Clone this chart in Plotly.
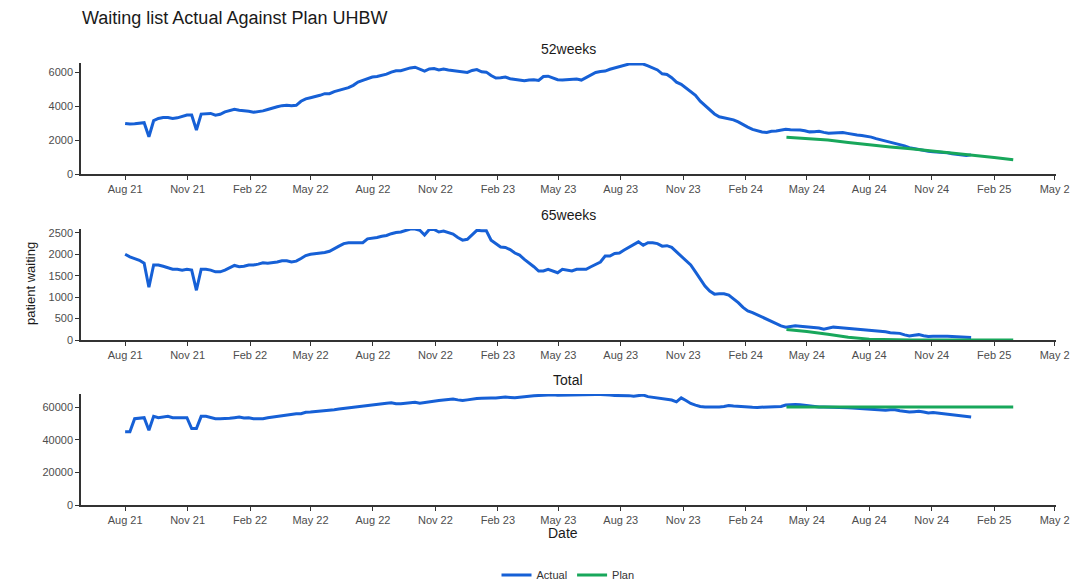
import pandas as pd
import plotly.graph_objects as go

# ---------------- data ----------------
week_start = "2021-08-01"
n_weeks = 179
actual_dates = pd.date_range(week_start, periods=n_weeks, freq="7D")
plan_dates = pd.date_range("2024-04-01", periods=12, freq="MS")

actual_52 = [
    2990, 2950, 2970, 2990, 3030, 2200, 3150, 3280, 3340, 3340,
    3280, 3320, 3420, 3480, 3480, 2600, 3540, 3580, 3580, 3480,
    3530, 3670, 3770, 3830, 3770, 3750, 3710, 3650, 3670, 3730,
    3810, 3870, 3970, 4040, 4060, 4030, 4060, 4300, 4440, 4510,
    4570, 4650, 4750, 4750, 4870, 4940, 5020, 5100, 5240, 5430,
    5530, 5630, 5730, 5760, 5820, 5900, 6020, 6100, 6100,
    6190, 6270, 6310, 6210, 6080, 6210, 6230, 6150, 6210, 6150,
    6120, 6080, 6040, 6000, 6120, 6170, 6040, 6020, 5820, 5670,
    5690, 5730, 5630, 5590, 5570, 5510, 5550, 5570, 5530, 5760,
    5780, 5690, 5570, 5550, 5570, 5590, 5610, 5550, 5690, 5820,
    6000, 6060, 6080, 6190, 6270, 6350, 6430, 6500, 6500, 6500,
    6500, 6390, 6270, 6150, 5920, 5880, 5690, 5430, 5300, 5100,
    4900, 4650,
    4300, 4050, 3800, 3550, 3380, 3320, 3280, 3200, 3080, 2900,
    2770, 2640, 2560, 2480, 2450, 2530, 2540, 2580, 2640, 2620,
    2620, 2600, 2560, 2490, 2500, 2520, 2460, 2410, 2430, 2460,
    2450, 2400, 2330, 2300, 2280, 2250, 2180, 2090, 2020, 1940,
    1880, 1820, 1740, 1660, 1560, 1500, 1480, 1420, 1340, 1320,
    1310, 1300, 1250, 1200, 1160, 1100, 1090, 1130,
]

actual_65 = [
    2000, 1940, 1900, 1860, 1790, 1230, 1750, 1750, 1720, 1690,
    1650, 1650, 1630, 1650, 1630, 1160, 1650, 1650, 1630, 1590,
    1590, 1630, 1690, 1740, 1710, 1720, 1750, 1750, 1770, 1800,
    1790, 1800, 1820, 1850, 1850, 1820, 1840, 1900, 1970, 2000,
    2010, 2030, 2040, 2070, 2140, 2190, 2250, 2270, 2270, 2270,
    2270, 2360, 2370, 2390, 2420, 2440, 2480, 2510, 2520,
    2560, 2590, 2590, 2560, 2450, 2580, 2580, 2520, 2540, 2510,
    2470, 2390, 2330, 2350, 2450, 2560, 2550, 2550, 2330, 2240,
    2170, 2160, 2110, 2030, 1980, 1880, 1800, 1710, 1610, 1610,
    1650, 1610, 1570, 1650, 1630, 1610, 1650, 1650, 1650, 1710,
    1770, 1820, 1960, 1960, 2020, 2030, 2100, 2170, 2240, 2290,
    2210, 2270, 2270, 2250, 2190, 2200, 2160, 2060, 1960, 1860,
    1750, 1590,
    1420, 1260, 1140, 1070, 1080, 1080, 1050, 970, 870, 760,
    680, 640, 590, 540, 490, 430, 380, 330, 300, 320,
    330, 320, 310, 300, 300, 280, 250, 280, 300, 290,
    280, 270, 265, 260, 250, 235, 220, 215, 210, 190,
    170, 160, 155, 120, 95, 110, 125, 100, 80, 85,
    95, 90, 85, 80, 75, 60, 60, 60,
]

actual_total = [
    44800, 44800, 52900, 53300, 53500, 45800, 54300, 53500, 53900, 54300,
    53500, 53300, 53500, 53500, 46800, 46800, 54300, 54300, 53500, 52900,
    52900, 52900, 53100, 53500, 53900, 53300, 53500, 52900, 52700, 52900,
    53500, 53900, 54300, 54900, 55300, 55500, 55900, 55900, 56800, 57000,
    57200, 57400, 57800, 57800, 58400, 58800, 59200, 59600, 60000, 60400,
    60800, 61200, 61600, 61800, 62000, 62400, 62600, 62000, 62000,
    62400, 62600, 63000, 62400, 62800, 63600, 63800, 64000, 64300, 64600,
    64900, 64400, 64000, 64400, 65000, 65200, 65400, 65700, 65600, 65500,
    65800, 66100, 65900, 65700, 66000, 66400, 66600, 66900, 67100, 67300,
    67600, 67500, 67300, 67400, 67500, 67600, 67700, 67700, 67700, 67700,
    67700, 67700, 67700, 67400, 67100, 67200, 67300, 67000, 66700, 67200,
    67400, 66400, 66000, 65800, 65500, 64900, 64300, 63200, 65600, 64000,
    62200, 61200, 60400, 60100, 60000, 60000, 60000, 60300, 61000, 60700,
    60400, 60100, 60000, 59900, 59800, 59900, 60000, 60000, 60100, 60400,
    61200, 61500, 61600, 61400, 61000, 60500, 60200, 60000, 60000, 60000,
    60000, 59800, 59700, 59600, 59400, 59200, 59100, 59000, 58800, 58400,
    58100, 58000, 58300, 58400, 57800, 57200, 57000, 57200, 57400, 57000,
    56400, 56600, 56300, 55800, 55500, 55300, 55000, 54700, 54300, 53900,
]

plan_52 = [2170, 2090, 2010, 1860, 1720, 1600, 1490, 1370, 1230, 1090, 980, 840]
plan_65 = [245, 200, 135, 65, 20, 5, 0, 0, 0, 0, 0, 0]
plan_total = [60100, 60100, 60100, 60100, 60100, 60100, 60100, 60100, 60100, 60100, 60100, 60100]

panel_titles = ["52weeks", "65weeks", "Total"]
tick_dates = pd.date_range("2021-08-01", "2025-05-01", freq="3MS")
tick_labels = ["Aug 21", "Nov 21", "Feb 22", "May 22", "Aug 22", "Nov 22",
               "Feb 23", "May 23", "Aug 23", "Nov 23", "Feb 24", "May 24",
               "Aug 24", "Nov 24", "Feb 25", "May 2"]
y_ticks = [[0, 2000, 4000, 6000], [0, 500, 1000, 1500, 2000, 2500],
           [0, 20000, 40000, 60000]]
y_tops = [6560, 2590, 68000]

# ---------------- figure ----------------
BLUE = "#1660d6"
GREEN = "#18a75b"
FONT = "Liberation Sans, Arial, sans-serif"
W, H = 1089, 583
ML, MR, MT, MB = 81, 33, 63, 78
plot_h = H - MT - MB

def ydom(top_px, bot_px):
    return [(H - MB - bot_px) / plot_h, (H - MB - top_px) / plot_h]

def py(px):
    return (H - MB - px) / plot_h

def pxx(px):
    return (px - ML) / (W - ML - MR)

domains = [ydom(63, 174), ydom(229, 340), ydom(394, 505)]
title_px = [49, 215, 380]

fig = go.Figure()
series = [(actual_52, plan_52), (actual_65, plan_65), (actual_total, plan_total)]
for k, (act, pln) in enumerate(series):
    suffix = "" if k == 0 else str(k + 1)
    fig.add_trace(go.Scatter(
        x=actual_dates, y=act, mode="lines", name="Actual",
        line=dict(color=BLUE, width=3), legendgroup="Actual",
        showlegend=(k == 0), xaxis="x" + suffix, yaxis="y" + suffix))
    fig.add_trace(go.Scatter(
        x=plan_dates, y=pln, mode="lines", name="Plan",
        line=dict(color=GREEN, width=3), legendgroup="Plan",
        showlegend=(k == 0), xaxis="x" + suffix, yaxis="y" + suffix))

axis_common = dict(
    showline=True, linecolor="#333333", linewidth=1.5,
    ticks="outside", ticklen=4, tickwidth=1.3, tickcolor="#333333",
    showgrid=False, zeroline=False, automargin=False,
    tickfont=dict(family=FONT, size=11, color="#4d4d4d"),
)

layout = dict(
    width=W, height=H,
    margin=dict(l=ML, r=MR, t=MT, b=MB, autoexpand=False),
    paper_bgcolor="white", plot_bgcolor="white",
    font=dict(family=FONT, color="#1a1a1a"),
    title=dict(text="Waiting list Actual Against Plan UHBW",
               x=82 / W, xref="container", xanchor="left",
               y=1 - 18 / H, yref="container", yanchor="middle",
               font=dict(family=FONT, size=18, color="#1a1a1a")),
    legend=dict(orientation="h", x=pxx(568), xanchor="center",
                y=py(575), yanchor="middle",
                font=dict(family=FONT, size=11, color="#333333"),
                itemwidth=30, bgcolor="rgba(0,0,0,0)"),
    showlegend=True,
)

for k in range(3):
    suffix = "" if k == 0 else str(k + 1)
    layout["xaxis" + suffix] = dict(
        axis_common, domain=[0, 1], anchor="y" + suffix,
        range=["2021-05-28", "2025-05-03"], type="date",
        tickvals=list(tick_dates), ticktext=tick_labels)
    layout["yaxis" + suffix] = dict(
        axis_common, domain=domains[k], anchor="x" + suffix,
        range=[0, y_tops[k]], tickvals=y_ticks[k],
        ticktext=[str(v) for v in y_ticks[k]])

annotations = []
for k in range(3):
    annotations.append(dict(
        text=panel_titles[k], xref="paper", yref="paper",
        x=pxx(568), y=py(title_px[k]), xanchor="center", yanchor="middle",
        showarrow=False, font=dict(family=FONT, size=14, color="#1a1a1a")))
annotations.append(dict(
    text="patient waiting", xref="paper", yref="paper",
    x=pxx(30), y=py(284), xanchor="center", yanchor="middle",
    textangle=-90, showarrow=False,
    font=dict(family=FONT, size=13, color="#1a1a1a")))
annotations.append(dict(
    text="Date", xref="paper", yref="paper",
    x=pxx(563), y=py(533), xanchor="center", yanchor="middle",
    showarrow=False, font=dict(family=FONT, size=14, color="#1a1a1a")))
layout["annotations"] = annotations

fig.update_layout(**layout)
fig.write_html(
    "out.html",
    config={"displayModeBar": False},
    post_script="document.body.style.margin='0';document.body.style.overflow='hidden';",
)
